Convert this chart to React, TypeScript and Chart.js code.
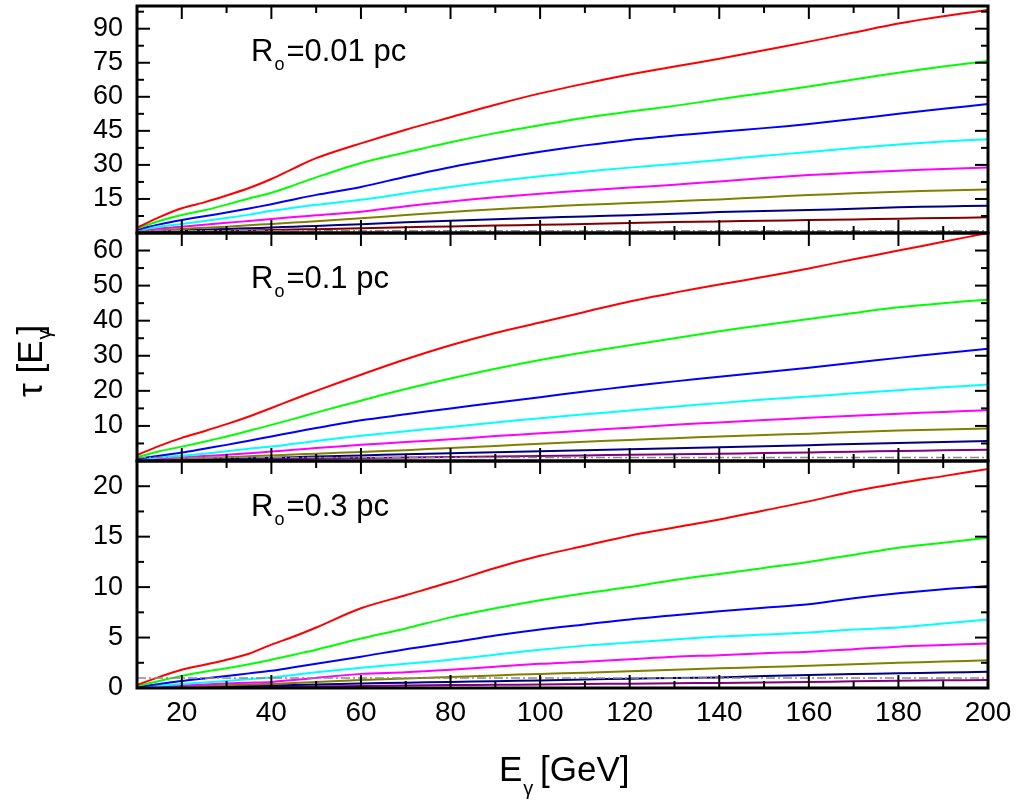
import React, { useEffect, useRef } from 'react';
import { Chart, registerables } from 'chart.js';

Chart.register(...registerables);

// ---------- data ----------
const energy = [10, 15, 20, 25, 30, 35, 40, 45, 50, 60, 70, 80, 90, 100, 110, 120, 130, 140, 150, 160, 170, 180, 190, 200];

// Panel 1: R_o = 0.01 pc
const red1 = [2.3, 7.0, 10.9, 13.5, 16.5, 19.8, 23.8, 28.5, 33.0, 39.5, 45.5, 51.0, 56.5, 61.5, 65.8, 69.8, 73.3, 76.8, 80.5, 84.3, 88.3, 92.3, 95.5, 98.2];
const green1 = [2.0, 5.3, 7.9, 10.0, 12.5, 15.2, 17.7, 21.0, 24.5, 30.8, 35.5, 40.0, 44.0, 47.5, 50.8, 53.5, 56.0, 58.9, 61.7, 64.5, 67.6, 70.6, 73.3, 75.8];
const blue1 = [1.5, 3.8, 5.7, 7.4, 9.0, 10.8, 12.7, 14.8, 16.8, 20.3, 24.8, 29.0, 32.6, 35.8, 38.6, 41.0, 42.9, 44.6, 46.2, 48.0, 50.2, 52.5, 54.7, 56.8];
const cyan1 = [1.2, 2.8, 4.0, 5.3, 6.6, 8.1, 9.8, 11.1, 12.4, 14.6, 17.5, 20.3, 22.8, 25.0, 27.0, 28.8, 30.4, 32.2, 34.0, 35.7, 37.4, 39.0, 40.3, 41.3];
const magenta1 = [0.9, 2.0, 2.8, 3.6, 4.5, 5.3, 6.2, 7.0, 7.8, 9.4, 11.8, 13.9, 15.7, 17.3, 18.7, 20.0, 21.3, 22.7, 24.2, 25.5, 26.5, 27.4, 28.2, 28.8];
const olive1 = [0.5, 1.2, 1.8, 2.3, 2.8, 3.4, 4.0, 4.6, 5.2, 6.5, 7.9, 9.3, 10.5, 11.5, 12.4, 13.2, 14.0, 14.8, 15.8, 16.7, 17.5, 18.2, 18.7, 19.2];
const navy1 = [0.3, 0.8, 1.2, 1.5, 1.8, 2.1, 2.4, 2.8, 3.1, 3.9, 4.7, 5.4, 6.1, 6.7, 7.3, 7.8, 8.5, 9.2, 9.7, 10.1, 10.7, 11.3, 11.7, 12.0];
const darkred1 = [0.1, 0.4, 0.6, 0.8, 0.95, 1.1, 1.3, 1.5, 1.7, 2.1, 2.5, 2.9, 3.3, 3.6, 4.0, 4.4, 4.8, 5.1, 5.4, 5.7, 6.0, 6.3, 6.6, 6.9];

// Panel 2: R_o = 0.1 pc
const red2 = [1.7, 4.3, 6.6, 8.5, 10.5, 12.7, 15.1, 17.6, 20.0, 24.6, 29.0, 33.0, 36.5, 39.5, 42.5, 45.5, 48.0, 50.3, 52.5, 54.9, 57.5, 60.0, 62.5, 65.0];
const green2 = [1.1, 2.8, 4.1, 5.5, 7.0, 8.6, 10.3, 12.0, 13.8, 17.2, 20.5, 23.5, 26.3, 28.8, 31.0, 33.0, 35.0, 37.0, 38.8, 40.5, 42.2, 43.8, 45.0, 46.0];
const blue2 = [0.6, 1.5, 2.4, 3.5, 4.6, 5.8, 7.0, 8.2, 9.4, 11.6, 13.3, 15.0, 16.6, 18.2, 19.8, 21.3, 22.7, 24.0, 25.3, 26.6, 28.0, 29.4, 30.7, 32.0];
const cyan2 = [0.4, 1.0, 1.5, 2.1, 2.8, 3.5, 4.1, 4.9, 5.7, 7.2, 8.5, 9.7, 11.0, 12.2, 13.3, 14.4, 15.5, 16.5, 17.5, 18.4, 19.3, 20.2, 21.0, 21.8];
const magenta2 = [0.2, 0.6, 1.0, 1.4, 1.8, 2.2, 2.7, 3.2, 3.7, 4.6, 5.4, 6.2, 7.1, 7.9, 8.7, 9.5, 10.3, 11.0, 11.7, 12.3, 12.9, 13.5, 14.0, 14.5];
const olive2 = [0.1, 0.35, 0.6, 0.85, 1.1, 1.35, 1.6, 1.85, 2.1, 2.6, 3.1, 3.7, 4.3, 4.9, 5.5, 6.0, 6.5, 7.0, 7.4, 7.8, 8.3, 8.7, 9.0, 9.3];
const navy2 = [0.05, 0.2, 0.35, 0.5, 0.65, 0.8, 0.95, 1.1, 1.3, 1.6, 1.9, 2.2, 2.5, 2.8, 3.1, 3.35, 3.65, 3.9, 4.2, 4.5, 4.85, 5.15, 5.45, 5.7];
const purple2 = [0.02, 0.08, 0.15, 0.25, 0.33, 0.42, 0.5, 0.6, 0.68, 0.85, 1.0, 1.15, 1.3, 1.45, 1.6, 1.75, 1.9, 2.05, 2.25, 2.45, 2.65, 2.85, 3.05, 3.2];

// Panel 3: R_o = 0.3 pc
const red3 = [0.3, 1.1, 1.8, 2.3, 2.8, 3.4, 4.3, 5.1, 6.0, 7.9, 9.2, 10.5, 11.9, 13.1, 14.1, 15.1, 15.9, 16.7, 17.6, 18.5, 19.5, 20.3, 21.0, 21.7];
const green3 = [0.2, 0.7, 1.2, 1.6, 1.95, 2.35, 2.8, 3.3, 3.8, 4.9, 5.9, 7.0, 7.9, 8.7, 9.4, 10.0, 10.7, 11.3, 11.9, 12.5, 13.2, 13.9, 14.4, 14.9];
const blue3 = [0.1, 0.4, 0.7, 0.95, 1.2, 1.45, 1.7, 2.05, 2.4, 3.1, 3.85, 4.5, 5.2, 5.8, 6.3, 6.8, 7.2, 7.6, 7.95, 8.3, 8.9, 9.4, 9.8, 10.1];
const cyan3 = [0.05, 0.22, 0.4, 0.55, 0.7, 0.87, 1.05, 1.3, 1.55, 2.0, 2.4, 2.8, 3.3, 3.8, 4.2, 4.5, 4.8, 5.1, 5.3, 5.5, 5.8, 6.0, 6.4, 6.8];
const magenta3 = [0.03, 0.14, 0.25, 0.35, 0.45, 0.52, 0.6, 0.8, 1.0, 1.4, 1.55, 1.8, 2.1, 2.4, 2.6, 2.85, 3.1, 3.25, 3.45, 3.6, 3.85, 4.1, 4.25, 4.4];
const olive3 = [0.02, 0.08, 0.15, 0.22, 0.28, 0.34, 0.4, 0.5, 0.6, 0.8, 0.95, 1.1, 1.25, 1.4, 1.52, 1.65, 1.8, 1.95, 2.08, 2.2, 2.35, 2.5, 2.62, 2.75];
const navy3 = [0.01, 0.05, 0.09, 0.13, 0.17, 0.21, 0.25, 0.3, 0.35, 0.45, 0.52, 0.6, 0.68, 0.75, 0.84, 0.92, 1.0, 1.05, 1.18, 1.3, 1.38, 1.46, 1.53, 1.6];
const purple3 = [0.005, 0.02, 0.04, 0.06, 0.08, 0.1, 0.12, 0.14, 0.16, 0.2, 0.25, 0.29, 0.32, 0.35, 0.39, 0.43, 0.47, 0.5, 0.55, 0.6, 0.66, 0.72, 0.76, 0.8];

// tau = 1 reference line
const refEnergy = [10, 200];
const refTau = [1, 1];

const panelLabels = ['0.01', '0.1', '0.3'];
const yMaxes = [100, 65, 22.5];
const yTicks1 = [0, 15, 30, 45, 60, 75, 90];
const yTicks2 = [0, 10, 20, 30, 40, 50, 60];
const yTicks3 = [0, 5, 10, 15, 20];
const xTickLabels = [20, 40, 60, 80, 100, 120, 140, 160, 180, 200];

// ---------- styles / layout ----------
const colors1 = ['#ff0000', '#00ff00', '#0000ff', '#00ffff', '#ff00ff', '#808000', '#000080', '#800000'];
const colors23 = ['#ff0000', '#00ff00', '#0000ff', '#00ffff', '#ff00ff', '#808000', '#000080', '#800080'];
const W = 1017;
const H = 801;
const LEFT = 137;
const RIGHT_PAD = 29;
const panelTops = [6, 233, 461];
const panelBottoms = [233, 461, 688];
const FONT = '"Liberation Sans", Arial, Helvetica, sans-serif';

const panelSeries = [
  [red1, green1, blue1, cyan1, magenta1, olive1, navy1, darkred1],
  [red2, green2, blue2, cyan2, magenta2, olive2, navy2, purple2],
  [red3, green3, blue3, cyan3, magenta3, olive3, navy3, purple3],
];
const panelYTicks = [yTicks1, yTicks2, yTicks3];
const panelColors = [colors1, colors23, colors23];

function makeChart(canvas: HTMLCanvasElement, p: number) {
  const isBottom = p === 2;
  const yMax = yMaxes[p];
  const yTicks = panelYTicks[p];
  const step = yTicks[1] - yTicks[0];

  const datasets: any[] = panelSeries[p].map((vals, i) => ({
    data: energy.map((e, j) => ({ x: e, y: vals[j] })),
    borderColor: panelColors[p][i],
    borderWidth: 2,
    pointRadius: 0,
    fill: false,
    tension: 0.3,
  }));
  datasets.unshift({
    data: refEnergy.map((e, j) => ({ x: e, y: refTau[j] })),
    borderColor: '#8a8a8a',
    borderWidth: 1.5,
    borderDash: [9, 3, 2, 3],
    pointRadius: 0,
    fill: false,
  });

  const decor = {
    id: 'decor' + p,
    afterDatasetsDraw(chart: any) {
      const { ctx, chartArea: a, scales } = chart;
      ctx.save();
      ctx.strokeStyle = '#000';
      ctx.lineWidth = 2;
      const seg = (x1: number, y1: number, x2: number, y2: number) => {
        ctx.beginPath();
        ctx.moveTo(x1, y1);
        ctx.lineTo(x2, y2);
        ctx.stroke();
      };
      for (let v = 20; v < 200; v += 10) {
        const px = scales.x.getPixelForValue(v);
        const len = v % 20 === 0 ? 13 : 7;
        seg(px, a.bottom, px, a.bottom - len);
        seg(px, a.top, px, a.top + len);
      }
      const half = step / 2;
      for (let k = 1; k * half < yMax; k++) {
        const v = k * half;
        const py = scales.y.getPixelForValue(v);
        const len = k % 2 === 0 ? 13 : 7;
        seg(a.left, py, a.left + len, py);
        seg(a.right, py, a.right - len, py);
      }
      ctx.lineWidth = 3;
      ctx.strokeRect(a.left, a.top, a.right - a.left, a.bottom - a.top);

      // panel annotation R_o = ...
      ctx.fillStyle = '#000';
      ctx.textBaseline = 'alphabetic';
      ctx.textAlign = 'left';
      const bx = 251;
      const by = a.top + 55;
      ctx.font = '31px ' + FONT;
      ctx.fillText('R', bx, by);
      const rw = ctx.measureText('R').width;
      ctx.font = '18px ' + FONT;
      ctx.fillText('o', bx + rw + 1, by + 9);
      const ow = ctx.measureText('o').width;
      ctx.font = '31px ' + FONT;
      ctx.fillText('=' + panelLabels[p] + ' pc', bx + rw + ow + 3, by);

      if (p === 1) {
        // y title: tau [E_gamma]
        ctx.save();
        ctx.translate(42, 397);
        ctx.rotate(-Math.PI / 2);
        ctx.font = '35px ' + FONT;
        const t1 = '\u03c4 [E';
        ctx.fillText(t1, 0, 0);
        const w = ctx.measureText(t1).width;
        ctx.font = '20px ' + FONT;
        ctx.fillText('\u03b3', w + 1, 9);
        const gw = ctx.measureText('\u03b3').width;
        ctx.font = '35px ' + FONT;
        ctx.fillText(']', w + gw * 0.6, 0);
        ctx.restore();
      }
      if (isBottom) {
        // x title: E_gamma [GeV]
        ctx.font = '35px ' + FONT;
        ctx.fillText('E', 499, 781);
        const ew = ctx.measureText('E').width;
        ctx.font = '20px ' + FONT;
        ctx.fillText('\u03b3', 499 + ew + 1, 795);
        ctx.font = '35px ' + FONT;
        ctx.fillText('[GeV]', 540, 781);
      }
      ctx.restore();
    },
  };

  const xScale: any = {
    type: 'linear',
    min: 10,
    max: 200,
    bounds: 'data',
    display: isBottom,
    grid: { display: false, drawTicks: false },
    border: { display: false },
    afterBuildTicks: (s: any) => {
      s.ticks = xTickLabels.map((v) => ({ value: v }));
    },
    ticks: {
      autoSkip: false,
      maxRotation: 0,
      padding: 8,
      color: '#000',
      font: { family: FONT, size: 28 },
      callback: (v: any) => String(v),
    },
    afterFit: (s: any) => {
      s.paddingLeft = 0;
      s.paddingRight = 0;
      if (isBottom) s.height = H - panelBottoms[p];
    },
  };

  return new Chart(canvas, {
    type: 'line',
    data: { datasets },
    options: {
      responsive: false,
      animation: false,
      devicePixelRatio: 1,
      layout: {
        padding: {
          left: 0,
          right: RIGHT_PAD,
          top: panelTops[p],
          bottom: isBottom ? 0 : H - panelBottoms[p],
        },
      },
      plugins: {
        legend: { display: false },
        tooltip: { enabled: false },
      },
      scales: {
        x: xScale,
        y: {
          type: 'linear',
          min: 0,
          max: yMax,
          bounds: 'data',
          grid: { display: false, drawTicks: false },
          border: { display: false },
          afterBuildTicks: (s: any) => {
            s.ticks = yTicks.map((v) => ({ value: v }));
          },
          ticks: {
            autoSkip: false,
            padding: 14,
            color: '#000',
            font: { family: FONT, size: 27 },
            callback: (v: any) => (Number(v) === 0 && p !== 2 ? '' : String(v)),
          },
          afterFit: (s: any) => {
            s.width = LEFT;
            s.paddingTop = 0;
            s.paddingBottom = 0;
          },
        },
      },
    },
    plugins: [decor],
  } as any);
}

export default function App() {
  const r1 = useRef<HTMLCanvasElement>(null);
  const r2 = useRef<HTMLCanvasElement>(null);
  const r3 = useRef<HTMLCanvasElement>(null);

  useEffect(() => {
    const charts = [r1, r2, r3].map((r, i) => makeChart(r.current as HTMLCanvasElement, i));
    return () => charts.forEach((c) => c.destroy());
  }, []);

  const cs: React.CSSProperties = { position: 'absolute', left: 0, top: 0, width: W, height: H };
  return (
    <div style={{ position: 'fixed', left: 0, top: 0, width: W, height: H, background: '#fff' }}>
      <canvas ref={r1} width={W} height={H} style={cs} />
      <canvas ref={r2} width={W} height={H} style={cs} />
      <canvas ref={r3} width={W} height={H} style={cs} />
    </div>
  );
}
